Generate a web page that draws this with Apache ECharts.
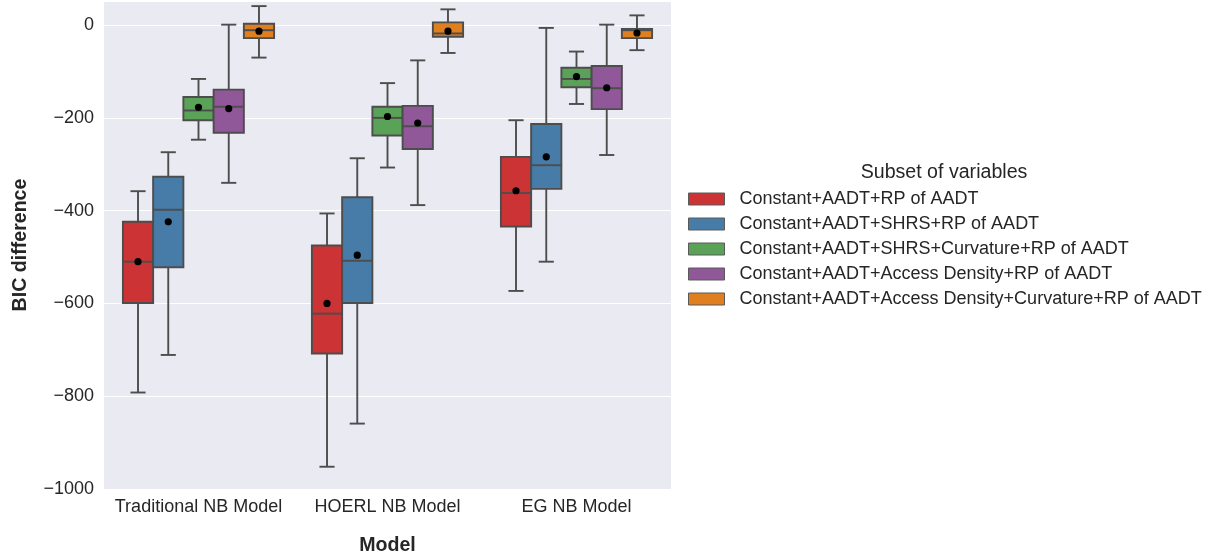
<!DOCTYPE html>
<html>
<head>
<meta charset="utf-8">
<script src="https://cdn.jsdelivr.net/npm/echarts@6/dist/echarts.min.js"></script>
<style>
html,body{margin:0;padding:0;background:#ffffff;}
#chart{width:1212px;height:556px;}
</style>
</head>
<body>
<div id="chart"></div>
<script>
// Categories (x axis)
const models = ['Traditional NB Model', 'HOERL NB Model', 'EG NB Model'];
// Hue groups (legend)
const subsets = [
  'Constant+AADT+RP of AADT',
  'Constant+AADT+SHRS+RP of AADT',
  'Constant+AADT+SHRS+Curvature+RP of AADT',
  'Constant+AADT+Access Density+RP of AADT',
  'Constant+AADT+Access Density+Curvature+RP of AADT'
];
const colors = ['#CB3335', '#477CA8', '#59A257', '#905899', '#DF7F20'];
// Box statistics per subset, one row per model: [lowerWhisker, Q1, median, Q3, upperWhisker, mean]
const statsRP = [
  [-792, -599, -510, -424, -358, -510],
  [-952, -708, -622, -475, -406, -600],
  [-573, -434, -362, -284, -205, -357]
];
const statsSHRS = [
  [-711, -522, -398, -327, -274, -424],
  [-859, -599, -508, -371, -287, -496],
  [-510, -353, -302, -213, -6, -284]
];
const statsSHRSCurv = [
  [-247, -205, -184, -155, -116, -177],
  [-307, -238, -200, -176, -125, -197],
  [-170, -134, -116, -92, -57, -111]
];
const statsAccess = [
  [-340, -232, -176, -139, 1, -180],
  [-388, -267, -218, -174, -76, -211],
  [-280, -181, -136, -88, 1, -135]
];
const statsAccessCurv = [
  [-70, -28, -11, 3, 41, -13],
  [-60, -25, -18, 6, 34, -13],
  [-54, -28, -11, -8, 21, -17]
];
const allStats = [statsRP, statsSHRS, statsSHRSCurv, statsAccess, statsAccessCurv];
// Y axis ticks
const yTicks = [-1000, -800, -600, -400, -200, 0];

const FONT = "'Liberation Sans', Arial, sans-serif";
const TEXT = '#262626';
const LINE = '#4d4d4d';

function makeRender(hueIdx, nHue) {
  return function (params, api) {
    const c = api.value(0);
    const band = api.size([1, 0])[0];
    const w = band * 0.8 / nHue;
    const cx = api.coord([c, 0])[0] + (hueIdx - (nHue - 1) / 2) * w;
    const y = k => api.coord([c, api.value(k)])[1];
    const yMin = y(1), yQ1 = y(2), yMed = y(3), yQ3 = y(4), yMax = y(5), yMean = y(6);
    const lw = 1.9;
    const ls = {stroke: LINE, lineWidth: lw};
    const cap = w / 4;
    return {
      type: 'group',
      children: [
        {type: 'line', shape: {x1: cx, y1: yQ3, x2: cx, y2: yMax}, style: ls},
        {type: 'line', shape: {x1: cx, y1: yQ1, x2: cx, y2: yMin}, style: ls},
        {type: 'line', shape: {x1: cx - cap, y1: yMax, x2: cx + cap, y2: yMax}, style: ls},
        {type: 'line', shape: {x1: cx - cap, y1: yMin, x2: cx + cap, y2: yMin}, style: ls},
        {type: 'rect', shape: {x: cx - w / 2, y: yQ3, width: w, height: yQ1 - yQ3},
          style: {fill: colors[hueIdx], stroke: LINE, lineWidth: lw}},
        {type: 'line', shape: {x1: cx - w / 2, y1: yMed, x2: cx + w / 2, y2: yMed}, style: ls},
        {type: 'circle', shape: {cx: cx, cy: yMean, r: 3.6}, style: {fill: '#000000'}}
      ]
    };
  };
}

const series = subsets.map((name, i) => ({
  name: name,
  type: 'custom',
  renderItem: makeRender(i, subsets.length),
  itemStyle: {color: colors[i]},
  encode: {x: 0, y: [1, 2, 3, 4, 5, 6]},
  data: allStats[i].map((s, ci) => [ci].concat(s)),
  z: 2
}));

const chart = echarts.init(document.getElementById('chart'), null, {renderer: 'canvas'});
chart.setOption({
  animation: false,
  backgroundColor: '#ffffff',
  textStyle: {fontFamily: FONT},
  grid: {
    left: 104, right: 541, top: 1, bottom: 67,
    outerBoundsMode: 'none',
    containLabel: false,
    show: true, backgroundColor: '#EAEAF2', borderWidth: 0
  },
  xAxis: {
    type: 'category',
    data: models,
    name: 'Model',
    nameLocation: 'middle',
    nameGap: 47,
    nameTextStyle: {fontFamily: FONT, fontSize: 19.6, fontWeight: 'bold', color: TEXT},
    axisLine: {show: false},
    axisTick: {show: false},
    splitLine: {show: false},
    axisLabel: {fontFamily: FONT, fontSize: 18, color: TEXT, margin: 9, interval: 0}
  },
  yAxis: {
    type: 'value',
    min: yTicks[0],
    max: 52,
    interval: 200,
    name: 'BIC difference',
    nameLocation: 'middle',
    nameRotate: 90,
    nameGap: 73,
    nameTextStyle: {fontFamily: FONT, fontSize: 19.6, fontWeight: 'bold', color: TEXT},
    axisLine: {show: false},
    axisTick: {show: false},
    splitLine: {show: true, lineStyle: {color: '#ffffff', width: 1.2}},
    axisLabel: {
      fontFamily: FONT, fontSize: 18, color: TEXT, margin: 10,
      showMaxLabel: false,
      formatter: v => (yTicks.indexOf(v) < 0 ? '' : (v < 0 ? '\u2212' + Math.abs(v) : String(v)))
    }
  },
  legend: {
    orient: 'vertical',
    left: 683,
    top: 185,
    icon: 'rect',
    itemWidth: 36,
    itemHeight: 12,
    itemGap: 7,
    itemStyle: {borderColor: '#5a5a5a', borderWidth: 1},
    textStyle: {fontFamily: FONT, fontSize: 18, color: TEXT, padding: [0, 0, 0, 10]},
    data: subsets
  },
  graphic: [{
    type: 'text',
    x: 944, y: 173,
    style: {
      text: 'Subset of variables',
      font: '19.6px ' + FONT,
      fill: TEXT,
      align: 'center',
      verticalAlign: 'middle'
    }
  }],
  series: series
});
</script>
</body>
</html>
